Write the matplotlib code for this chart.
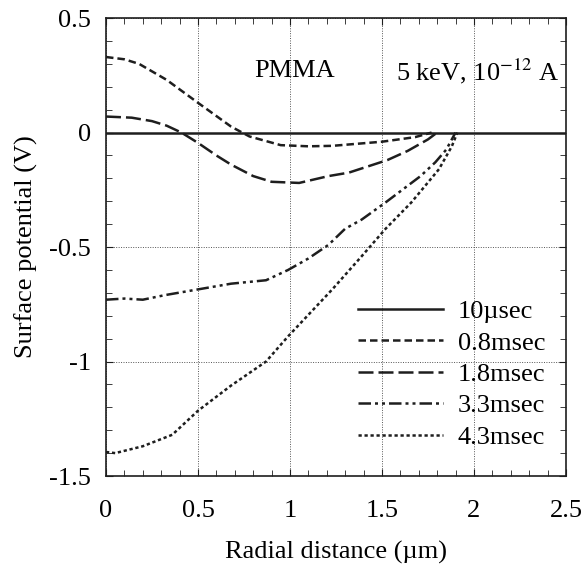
import matplotlib
matplotlib.use("Agg")
import matplotlib.pyplot as plt
from matplotlib.ticker import MultipleLocator

plt.rcParams['font.family'] = ['Liberation Serif', 'DejaVu Serif']
plt.rcParams['mathtext.fontset'] = 'stix'

# curves
x_10us = [0.0, 2.5]
y_10us = [0.0, 0.0]

x_08 = [0.0, 0.1, 0.18, 0.33, 0.5, 0.68, 0.78, 0.95, 1.1, 1.23, 1.5, 1.68, 1.77]
y_08 = [0.33, 0.32, 0.30, 0.23, 0.13, 0.026, -0.017, -0.055, -0.06, -0.058, -0.04, -0.02, 0.0]

x_18 = [0.0, 0.14, 0.25, 0.33, 0.41, 0.5, 0.6, 0.68, 0.8, 0.9, 1.05, 1.21, 1.32, 1.53, 1.64, 1.75, 1.8]
y_18 = [0.07, 0.065, 0.05, 0.03, 0.0, -0.045, -0.1, -0.14, -0.19, -0.215, -0.22, -0.19, -0.175, -0.12, -0.08, -0.03, 0.0]

x_33 = [0.0, 0.1, 0.2, 0.32, 0.5, 0.68, 0.87, 0.99, 1.1, 1.21, 1.3, 1.39, 1.52, 1.71, 1.79, 1.85, 1.9]
y_33 = [-0.73, -0.725, -0.73, -0.71, -0.685, -0.66, -0.645, -0.6, -0.55, -0.49, -0.42, -0.38, -0.305, -0.19, -0.13, -0.074, 0.0]

x_43 = [0.0, 0.05, 0.2, 0.36, 0.5, 0.68, 0.87, 0.99, 1.23, 1.39, 1.52, 1.66, 1.81, 1.88, 1.91]
y_43 = [-1.395, -1.40, -1.37, -1.32, -1.215, -1.105, -1.0, -0.89, -0.685, -0.54, -0.42, -0.305, -0.16, -0.06, 0.0]

labels = ['10\u00b5sec', '0.8msec', '1.8msec', '3.3msec', '4.3msec']

fs = 19
fig = plt.figure(figsize=(5.84, 5.76), dpi=100)
ax = fig.add_axes([0.1815, 0.1736, 0.7875, 0.795])

lw = 1.8
ink = '#1e1e1e'
ax.plot(x_10us, y_10us, color=ink, lw=lw, linestyle='-', label=labels[0])
ax.plot(x_08, y_08, color=ink, lw=lw, linestyle=(0, (3, 1.6)), label=labels[1])
ax.plot(x_18, y_18, color=ink, lw=lw, linestyle=(0, (6, 2)), label=labels[2])
ax.plot(x_33, y_33, color=ink, lw=lw, linestyle=(0, (5, 1.6, 1.2, 1.6, 1.2, 1.6)), label=labels[3])
ax.plot(x_43, y_43, color=ink, lw=lw, linestyle=(0, (1.3, 1.1)), label=labels[4])

ax.set_xlim(0, 2.5)
ax.set_ylim(-1.5, 0.5)
ax.xaxis.set_minor_locator(MultipleLocator(0.1))
ax.yaxis.set_minor_locator(MultipleLocator(0.1))
ax.set_xticks([0, 0.5, 1, 1.5, 2, 2.5])
ax.set_xticklabels(['0', '0.5', '1', '1.5', '2', '2.5'])
ax.set_yticks([0.5, 0, -0.5, -1, -1.5])
ax.set_yticklabels(['0.5', '0', '-0.5', '-1', '-1.5'])
ax.tick_params(which='both', direction='in', top=True, right=True, labelsize=fs, color=ink)
ax.tick_params(which='major', length=5)
ax.tick_params(which='minor', length=4)
ax.tick_params(axis='x', which='major', pad=17)
ax.tick_params(axis='y', which='major', pad=11)
ax.grid(True, which='major', linestyle=(0, (1, 1.5)), color='#555', lw=0.7)
for s in ax.spines.values():
    s.set_color(ink)
    s.set_linewidth(1.2)

ax.set_xlabel('Radial distance (\u00b5m)', fontsize=fs, labelpad=14)
ax.set_ylabel('Surface potential (V)', fontsize=fs, labelpad=8)

ax.text(0.41, 0.884, 'PMMA', transform=ax.transAxes, fontsize=fs, ha='center', va='center')
ax.text(0.985, 0.884, '5 keV, 10$^{-12}$ A', transform=ax.transAxes, fontsize=fs, ha='right', va='center')

ax.legend(loc='center right', bbox_to_anchor=(0.955, 0.222), frameon=False, fontsize=fs,
          handlelength=3.2, handletextpad=0.57, labelspacing=0.3, borderpad=0, borderaxespad=0)

fig.savefig('out.png', dpi=100)
